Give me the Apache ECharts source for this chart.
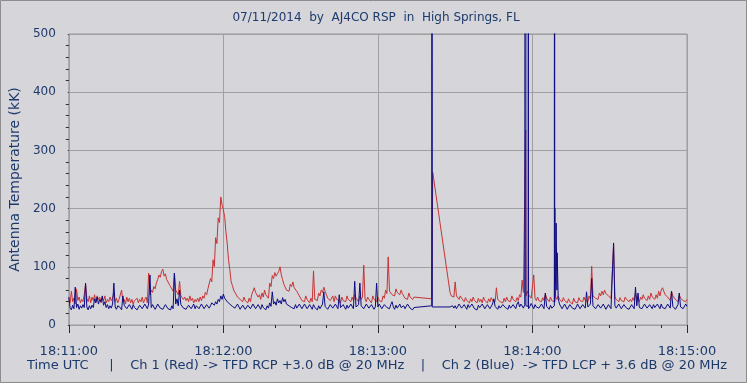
<!DOCTYPE html>
<html><head><meta charset="utf-8">
<script src="https://cdn.jsdelivr.net/npm/echarts@6.0.0/dist/echarts.min.js"></script>
<style>html,body{margin:0;padding:0;background:#d5d5da;}#c{width:747px;height:383px;}</style>
</head><body><div id="c"></div>
<script>
// Two samples per second after 18:11:00 (index/2 = seconds), null = no data
const redValues = [
44,38,58,40,46,36,62,42,48,38,44,40,52,70,46,40,50,38,48,42,
52,40,50,44,48,38,46,42,50,38,44,40,48,42,46,55,40,46,38,44,
46,60,40,44,36,48,40,46,38,44,36,42,40,46,38,44,40,48,38,44,
48,38,89,52,60,56,66,62,72,78,86,82,92,96,84,88,78,80,70,66,
62,58,89,60,56,52,75,50,52,44,48,42,46,40,50,42,46,38,44,40,
46,40,48,42,50,46,56,52,62,60,80,74,112,100,150,140,184,176,220,206,
198,186,160,140,112,96,75,68,60,56,54,48,50,44,46,40,48,42,44,38,
46,40,52,58,64,56,55,48,52,44,55,48,60,52,52,46,72,66,85,80,
90,84,88,92,100,86,78,70,65,60,62,58,70,66,74,64,62,58,55,50,
48,42,44,40,50,44,42,38,46,40,93,44,47,42,55,50,60,56,65,58,
52,46,48,42,44,50,40,50,44,46,42,38,48,42,45,40,50,44,44,40,
48,42,52,46,46,40,50,44,48,103,45,40,48,44,42,38,50,44,46,40,
48,42,44,40,50,46,60,54,117,58,58,52,55,50,62,56,57,52,60,54,
52,46,48,44,55,48,47,44,48,46,null,null,null,null,null,null,null,null,null,null,
null,null,null,null,null,null,null,null,null,null,null,null,null,null,null,null,56,50,52,48,
74,50,48,44,50,46,44,40,47,42,44,38,45,40,48,42,43,38,46,40,
44,38,48,42,42,38,45,40,47,42,44,40,64,44,46,40,42,38,46,40,
48,42,45,40,50,44,44,40,47,42,52,48,77,56,55,50,58,52,50,46,
46,86,46,42,48,42,44,40,47,42,53,46,45,40,48,42,44,40,48,44,
50,44,44,40,47,42,42,38,45,40,41,36,46,40,43,38,47,42,44,40,
48,42,45,40,50,44,101,50,52,46,48,44,55,50,58,52,60,54,55,50,
52,46,48,137,48,44,45,40,47,42,44,40,48,44,46,40,44,40,47,42,
55,46,45,40,48,44,52,46,46,42,50,44,55,48,48,44,52,46,58,50,
60,64,58,52,55,48,48,42,58,50,50,44,46,40,52,46,48,42,45,40,
44
];
const blueValues = [
48,30,26,34,28,65,30,36,27,33,29,35,30,72,31,26,33,28,34,30,
45,38,48,36,44,40,50,34,40,30,35,28,33,29,36,72,31,27,33,30,
30,26,50,34,33,28,29,35,32,27,35,30,30,26,28,34,33,28,31,36,
34,28,36,86,30,35,33,27,31,36,35,29,32,27,30,35,34,28,31,26,
33,28,89,36,45,33,60,35,35,29,31,27,29,34,33,28,30,36,28,33,
32,28,30,36,34,28,31,35,35,29,33,38,38,34,40,36,44,40,50,44,
53,46,46,40,42,36,37,32,34,29,31,36,33,27,30,34,32,27,29,34,
33,28,31,36,34,28,30,35,32,27,35,30,31,26,33,29,38,32,57,36,
40,34,45,38,42,36,47,40,44,36,38,33,36,30,33,28,35,29,31,36,
33,28,30,36,34,28,31,35,32,27,35,30,30,26,33,28,31,36,57,32,
32,27,30,35,34,29,31,36,33,28,52,30,30,35,32,27,34,29,31,36,
33,28,75,31,30,35,72,33,33,28,31,36,34,29,30,35,33,27,31,72,
31,36,34,28,30,35,36,30,33,28,35,40,31,27,34,29,32,36,30,27,
33,28,31,36,34,29,30,26,30,31,null,null,null,null,null,null,null,null,null,null,
null,null,null,null,null,null,null,null,null,null,null,null,null,null,null,null,31,30,33,29,
33,28,31,36,34,29,30,35,32,27,35,30,31,36,33,28,30,26,34,30,
31,36,33,28,30,35,34,28,31,36,45,32,32,27,33,29,30,35,35,30,
31,27,34,29,30,35,33,28,36,40,31,36,34,29,35,31,33,28,32,37,
34,28,35,31,33,29,30,36,34,28,55,32,32,27,34,29,31,33,90,60,
45,36,34,28,31,36,33,27,30,35,35,29,32,27,31,36,33,28,30,35,
34,29,57,31,31,36,80,33,33,28,30,35,34,29,31,36,33,27,30,35,
34,28,31,141,33,29,30,36,34,28,31,35,35,29,32,27,30,35,33,28,
65,33,55,30,33,28,31,36,34,29,30,35,33,28,35,30,31,36,34,28,
36,30,33,28,31,36,34,29,58,32,32,27,30,35,55,31,33,28,31,36,
32
];
// Short events between samples: [seconds, value]
const redExtra = [[140.9,45],[141.3,262],[177.35,335],[188.8,201]];
const blueExtra = [[140.9,33],[141.0,3000],[141.1,31],[177.35,32],[177.4,3000],[177.45,33],
  [178.35,32],[178.4,3000],[178.45,33],[188.55,33],[188.6,3000],[188.65,40],[189.2,175],[189.6,124]];
const xTickLabels = ['18:11:00','18:12:00','18:13:00','18:14:00','18:15:00'];
const titleText = '07/11/2014  by  AJ4CO RSP  in  High Springs, FL';
const footText = 'Time UTC     |    Ch 1 (Red) -> TFD RCP +3.0 dB @ 20 MHz    |    Ch 2 (Blue)  -> TFD LCP + 3.6 dB @ 20 MHz';
const yName = 'Antenna Temperature (kK)';

function build(vals, extra) {
  const pts = [];
  vals.forEach((v, i) => { if (v !== null) pts.push([i / 2, v]); });
  extra.forEach(p => pts.push(p));
  pts.sort((a, b) => a[0] - b[0]);
  return pts;
}
const FONT = '"DejaVu Sans", Verdana, sans-serif';
const TC = '#1d3a6b';
const chart = echarts.init(document.getElementById('c'));
chart.setOption({
  backgroundColor: '#d5d5da',
  animation: false,
  graphic: [
    {type:'rect', shape:{x:0.5,y:0.5,width:746,height:382}, style:{fill:'none', stroke:'#8c8c8c', lineWidth:1}, silent:true},
    {type:'text', x:376, y:18, style:{text:titleText, font:'12px ' + FONT, fill:TC, textAlign:'center', textVerticalAlign:'middle'}},
    {type:'text', x:377, y:366, style:{text:footText, font:'13px ' + FONT, fill:TC, textAlign:'center', textVerticalAlign:'middle'}}
  ],
  grid: {left:66, right:60, top:34, bottom:58, show:true, borderColor:'#9a9a9a', borderWidth:1, backgroundColor:'transparent'},
  xAxis: {
    type:'value', min:0, max:240, interval:60, offset:3,
    axisLine:{show:false},
    axisTick:{show:true, length:8, lineStyle:{color:'#2a2a2a'}},
    minorTick:{show:true, splitNumber:6, length:3, lineStyle:{color:'#2a2a2a'}},
    splitLine:{show:true, lineStyle:{color:'#a0a0a0', width:1}},
    axisLabel:{formatter: v => xTickLabels[Math.round(v/60)], color:TC, fontFamily:FONT, fontSize:13, margin:17}
  },
  yAxis: {
    type:'value', min:0, max:500, interval:100, offset:5,
    axisLine:{show:false},
    axisTick:{show:true, length:1, lineStyle:{color:'#2a2a2a'}},
    minorTick:{show:true, splitNumber:5, length:3, lineStyle:{color:'#2a2a2a'}},
    splitLine:{show:true, lineStyle:{color:'#a0a0a0', width:1}},
    axisLabel:{color:TC, fontFamily:FONT, fontSize:12, margin:8},
    name: yName, nameLocation:'middle', nameGap:27,
    nameTextStyle:{color:TC, fontFamily:FONT, fontSize:14}
  },
  series: [
    {type:'line', data: build(redValues, redExtra), showSymbol:false, symbol:'none', clip:true,
     lineStyle:{color:'#c63434', width:1}, itemStyle:{color:'#c63434'}},
    {type:'line', data: build(blueValues, blueExtra), showSymbol:false, symbol:'none', clip:true,
     lineStyle:{color:'#0c0c82', width:1}, itemStyle:{color:'#0c0c82'}}
  ]
});
</script></body></html>
